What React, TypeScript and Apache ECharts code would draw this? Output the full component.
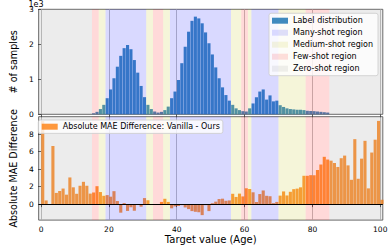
import React, { useEffect, useRef } from "react";
import * as echarts from "echarts";

const FONT = "DejaVu Sans";

// Age bins (each bin covers [age, age + 1))
const ages: number[] = Array.from({ length: 101 }, (_, i) => i);

// Top: label distribution (# of samples per age)
const labelCounts: number[] = [
  0, 0, 0, 0, 0, 0, 0, 0, 0, 0,
  0, 0, 0, 0, 0, 30, 70, 150, 270, 460,
  710, 1030, 1360, 1670, 1890, 1980, 1860, 1550, 1190, 810,
  490, 270, 150, 80, 50, 70, 120, 220, 460, 650,
  980, 1460, 1930, 2360, 2670, 2790, 2740, 2600, 2340, 2030,
  1710, 1340, 1030, 770, 550, 390, 270, 170, 120, 90,
  80, 170, 310, 490, 650, 710, 420, 540, 370, 390,
  260, 210, 170, 150, 140, 130, 130, 120, 100, 95,
  90, 80, 70, 60, 50, 0, 0, 0, 0, 0,
  0, 0, 0, 0, 0, 0, 0, 0, 0, 0,
  0,
];

// Bottom: absolute MAE difference (Vanilla - Ours) per age
const maeDiff: number[] = [
  9.5, 0.42, 0, 6.65, 1.28, 1.5, 1.78, 1.08, 3.05, 1.92,
  1.18, 2.1, 2.55, 2.1, 1.2, 1.33, 2.05, 1.38, 0.95, 1.03,
  0.85, 1.48, 0.35, -0.98, 0.12, -0.78, -0.36, -0.76, 0, -0.3,
  0.69, 0.44, 0, 0, 0, 0.25, 0.61, 0.25, -0.48, -0.26,
  -0.22, -0.12, -0.38, -0.57, -0.8, -0.88, -0.93, -1.26, -0.12, -0.8,
  0.1, 0.28, 0.58, 0.62, 0.38, 0.42, 1.18, 0.82, 1.2, 0.88,
  1.81, 1.73, 1.35, 0.25, 1.15, 1.56, 0.95, 0.9, 0.11, 0.25,
  0.97, 1.45, 0.99, 1.41, 1.71, 1.77, 1.92, 3.24, 3.24, 3.31,
  3.3, 3.9, 4.53, 5.41, 5.1, 4.97, 4.7, 4.25, 5.25, 5.55,
  4.43, 2.78, 7.43, 2.9, 5.2, 7.24, 1.8, 5.9, 7.37, 9.52,
  0.5,
];

const X_MIN = -0.7;
const X_MAX = 100.75;
const xTicks = [0, 20, 40, 60, 80, 100];
const countTicks = [0, 1000, 2000, 3000];
const diffTicks = [0, 2, 4, 6, 8];

// Region spans [from, to) in age
const manyShot: number[][] = [[19, 31], [38, 56], [62, 70]];
const mediumShot: number[][] = [[17, 19], [31, 33], [36, 38], [56, 59], [61, 62], [70, 78]];
const fewShot: number[][] = [[15, 17], [33, 36], [59, 61], [78, 85]];
const zeroShot: number[][] = [[X_MIN, 15], [85, X_MAX]];

const regions = [
  { name: "Many-shot region", spans: manyShot, color: "rgba(0,0,255,0.15)" },
  { name: "Medium-shot region", spans: mediumShot, color: "rgba(191,191,0,0.15)" },
  { name: "Few-shot region", spans: fewShot, color: "rgba(255,0,0,0.15)" },
  { name: "Zero-shot region", spans: zeroShot, color: "rgba(128,128,128,0.15)" },
];

const LABEL_NAME = "Label distribution";
const DIFF_NAME = "Absolute MAE Difference: Vanilla - Ours";

function buildOption(): any {
  const gridBox = { left: 28, right: 9.2, show: true, borderColor: "#444", borderWidth: 0.8, backgroundColor: "transparent" };
  const xAxis = (gridIndex: number, showLabels: boolean) => ({
    type: "value",
    gridIndex,
    min: X_MIN,
    max: X_MAX,
    splitNumber: 5,
    axisLine: { show: false },
    axisTick: { show: true, length: 3, customValues: xTicks, lineStyle: { color: "#333", width: 0.8 } },
    axisLabel: {
      show: showLabels,
      customValues: xTicks,
      fontFamily: FONT,
      fontSize: 7.5,
      color: "#000",
      margin: 5,
      formatter: (v: number) => (xTicks.includes(v) ? String(v) : ""),
    },
    splitLine: { show: true, lineStyle: { color: "#b0b0b0", width: 0.8 } },
    ...(showLabels
      ? {
          name: "Target value (Age)",
          nameLocation: "middle",
          nameGap: 12,
          nameTextStyle: { fontFamily: FONT, fontSize: 10, color: "#000" },
        }
      : {}),
  });

  const regionSeries = (gridIndex: number) =>
    regions.map((r) => ({
      type: "scatter",
      name: r.name,
      xAxisIndex: gridIndex,
      yAxisIndex: gridIndex,
      data: [],
      itemStyle: { color: r.color },
      markArea: {
        silent: true,
        z: 3,
        label: { show: false },
        itemStyle: { color: r.color },
        data: r.spans.map(([a, b]) => [{ xAxis: a }, { xAxis: b }]),
      },
    }));

  const legendCommon = {
    orient: "vertical",
    itemWidth: 16,
    itemHeight: 6,
    itemGap: 4,
    icon: "rect",
    backgroundColor: "rgba(255,255,255,0.8)",
    borderColor: "#cccccc",
    borderWidth: 0.8,
    borderRadius: 2,
    selectedMode: false,
    z: 10,
    textStyle: { fontFamily: FONT, fontSize: 8, color: "#000" },
  };

  return {
    animation: false,
    textStyle: { fontFamily: FONT },
    grid: [
      { ...gridBox, top: 9.3, height: 105 },
      { ...gridBox, top: 116.7, height: 103.6 },
    ],
    xAxis: [xAxis(0, false), xAxis(1, true)],
    yAxis: [
      {
        type: "value",
        gridIndex: 0,
        min: 0,
        max: 3000,
        interval: 1000,
        axisLine: { show: false },
        axisTick: { show: true, length: 3, lineStyle: { color: "#333", width: 0.8 } },
        axisLabel: {
          fontFamily: FONT,
          fontSize: 7.5,
          color: "#000",
          margin: 5,
          formatter: (v: number) => (countTicks.includes(v) ? String(v / 1000) : ""),
        },
        splitLine: { show: false },
        name: "# of samples",
        nameLocation: "middle",
        nameGap: 17,
        nameTextStyle: { fontFamily: FONT, fontSize: 9.6, color: "#000" },
      },
      {
        type: "value",
        gridIndex: 1,
        min: -1.83,
        max: 10,
        splitNumber: 6,
        axisLine: { show: false },
        axisTick: { show: true, length: 3, customValues: diffTicks, lineStyle: { color: "#333", width: 0.8 } },
        axisLabel: {
          customValues: diffTicks,
          fontFamily: FONT,
          fontSize: 7.5,
          color: "#000",
          margin: 5,
          formatter: (v: number) => (diffTicks.includes(v) ? String(v) : ""),
        },
        splitLine: { show: false },
        name: "Absolute MAE Difference",
        nameLocation: "middle",
        nameGap: 17,
        nameTextStyle: { fontFamily: FONT, fontSize: 9.6, color: "#000" },
      },
    ],
    legend: [
      {
        ...legendCommon,
        data: [LABEL_NAME, ...regions.map((r) => r.name)],
        left: 269,
        top: 13.3,
        padding: [3.4, 5, 3, 3],
      },
      {
        ...legendCommon,
        data: [DIFF_NAME],
        left: 38.3,
        top: 120,
        padding: [2.7, 3, 2.7, 3.4],
      },
    ],
    graphic: [
      {
        type: "text",
        left: 28.5,
        top: 0,
        style: { text: "1e3", fontSize: 8, fontFamily: FONT, fill: "#000" },
      },
    ],
    series: [
      {
        type: "bar",
        name: LABEL_NAME,
        xAxisIndex: 0,
        yAxisIndex: 0,
        barWidth: 3.1,
        z: 2,
        itemStyle: { color: "rgba(31,119,180,0.85)" },
        data: ages.map((a, i) => [a + 0.5, labelCounts[i]]),
      },
      {
        type: "bar",
        name: DIFF_NAME,
        xAxisIndex: 1,
        yAxisIndex: 1,
        barWidth: 3.1,
        z: 2,
        itemStyle: { color: "rgba(255,127,14,0.8)" },
        data: ages.map((a, i) => [a + 0.5, maeDiff[i]]),
        markLine: {
          silent: true,
          symbol: "none",
          z: 5,
          label: { show: false },
          lineStyle: { color: "#000", width: 1, type: "solid" },
          data: [{ yAxis: 0 }],
        },
      },
      ...regionSeries(0),
      ...regionSeries(1),
    ],
  };
}

export default function App() {
  const ref = useRef<HTMLDivElement>(null);
  useEffect(() => {
    document.body.style.margin = "0";
    if (!ref.current) return;
    const chart = echarts.init(ref.current, undefined, { renderer: "svg" });
    chart.setOption(buildOption());
    return () => chart.dispose();
  }, []);
  return <div ref={ref} style={{ width: 392, height: 245 }} />;
}
